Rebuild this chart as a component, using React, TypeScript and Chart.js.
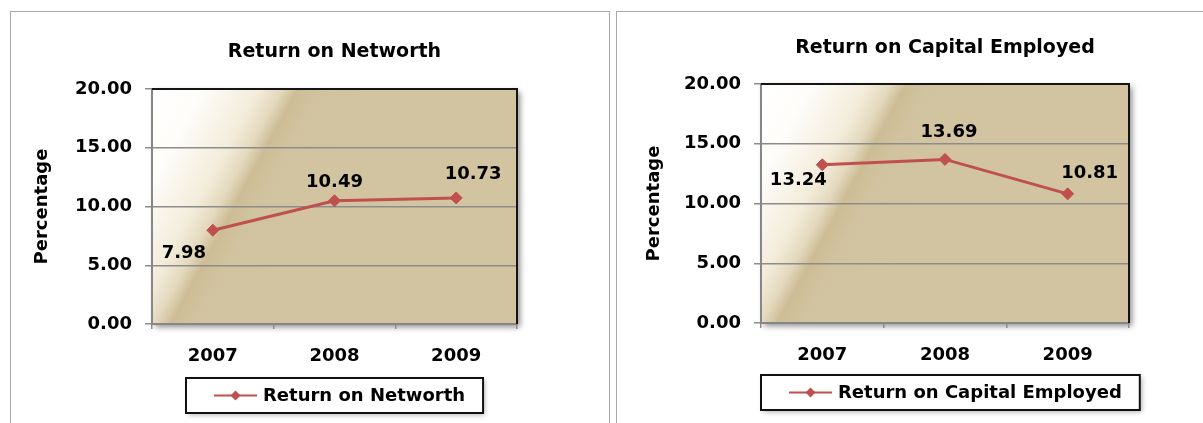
import React, { useEffect, useRef } from "react";
import { Chart, registerables } from "chart.js";
Chart.register(...registerables);

// ---- data ----
const years = ["2007", "2008", "2009"];
const networthValues = [7.98, 10.49, 10.73];
const capitalValues = [13.24, 13.69, 10.81];
const yMin = 0;
const yMax = 20;
const yStep = 5;
const networthTitle = "Return on Networth";
const capitalTitle = "Return on Capital Employed";
const axisTitle = "Percentage";

// label placement (style, not data)
const networthLabelOffsets = [[-29, 23], [0, -18], [17, -24]];
const capitalLabelOffsets = [[-24, 16], [4, -27], [22, -20]];

const FONT = "'DejaVu Sans', Verdana, sans-serif";
const RED = "#C0504D";

const plotBackground = {
  id: "plotBackground",
  beforeDraw(chart: any) {
    const { ctx, chartArea: a } = chart;
    const L = 200;
    const ux = 0.88, uy = 0.476;
    const g = ctx.createLinearGradient(a.left, a.top, a.left + ux * L, a.top + uy * L);
    g.addColorStop(0, "#FFFFFF");
    g.addColorStop(0.22, "#FEFDFA");
    g.addColorStop(0.47, "#F3ECDA");
    g.addColorStop(0.57, "#E4D9BE");
    g.addColorStop(0.64, "#CDBD96");
    g.addColorStop(0.74, "#D1C39F");
    g.addColorStop(1, "#D2C4A1");
    ctx.save();
    ctx.shadowColor = "rgba(0,0,0,0.45)";
    ctx.shadowBlur = 6;
    ctx.shadowOffsetX = 3;
    ctx.shadowOffsetY = 3;
    ctx.fillStyle = g;
    ctx.fillRect(a.left, a.top, a.right - a.left, a.bottom - a.top);
    ctx.restore();
  },
  afterDraw(chart: any) {
    const { ctx, chartArea: a } = chart;
    ctx.save();
    ctx.strokeStyle = "#151515";
    ctx.lineWidth = 2;
    ctx.beginPath();
    ctx.moveTo(a.left, a.top);
    ctx.lineTo(a.right, a.top);
    ctx.lineTo(a.right, a.bottom);
    ctx.stroke();
    ctx.restore();
  },
};

const pointLabels = {
  id: "pointLabels",
  afterDatasetsDraw(chart: any, _args: any, opts: any) {
    const { ctx } = chart;
    const meta = chart.getDatasetMeta(0);
    const data = chart.data.datasets[0].data;
    ctx.save();
    ctx.font = `bold 18px ${FONT}`;
    ctx.fillStyle = "#000";
    ctx.textAlign = "center";
    ctx.textBaseline = "middle";
    meta.data.forEach((pt: any, i: number) => {
      const off = (opts.offsets && opts.offsets[i]) || [0, -18];
      ctx.fillText(Number(data[i]).toFixed(2), pt.x + off[0], pt.y + off[1]);
    });
    ctx.restore();
  },
};

const boxLegend = {
  id: "boxLegend",
  afterDraw(chart: any, _args: any, opts: any) {
    const { ctx, chartArea: a } = chart;
    const ds = chart.data.datasets[0];
    ctx.save();
    ctx.font = `bold 18px ${FONT}`;
    const tw = ctx.measureText(ds.label).width;
    const w = tw + 95;
    const h = 35;
    const cx = (a.left + a.right) / 2 + (opts.dx || 0);
    const left = Math.round(cx - w / 2);
    const top = Math.round(a.bottom + opts.gap);
    ctx.shadowColor = "rgba(0,0,0,0.3)";
    ctx.shadowBlur = 5;
    ctx.shadowOffsetX = 2;
    ctx.shadowOffsetY = 2;
    ctx.fillStyle = "#fff";
    ctx.fillRect(left, top, w, h);
    ctx.shadowColor = "transparent";
    ctx.strokeStyle = "#111";
    ctx.lineWidth = 2;
    ctx.strokeRect(left, top, w, h);
    const cy = top + h / 2;
    const lx = left + 28;
    ctx.strokeStyle = ds.borderColor;
    ctx.lineWidth = 2;
    ctx.beginPath();
    ctx.moveTo(lx, cy);
    ctx.lineTo(lx + 43, cy);
    ctx.stroke();
    const mx = lx + 21.5, r = 5;
    ctx.fillStyle = ds.borderColor;
    ctx.beginPath();
    ctx.moveTo(mx, cy - r);
    ctx.lineTo(mx + r, cy);
    ctx.lineTo(mx, cy + r);
    ctx.lineTo(mx - r, cy);
    ctx.closePath();
    ctx.fill();
    ctx.fillStyle = "#000";
    ctx.textAlign = "left";
    ctx.textBaseline = "middle";
    ctx.fillText(ds.label, lx + 49, cy + 1);
    ctx.restore();
  },
};

function makeConfig(p: {
  title: string;
  values: number[];
  offsets: number[][];
  padRight: number;
  padBottom: number;
  yWidth: number;
  titleTop: number;
  titleBottom: number;
  axisTitlePad: number;
  legendGap: number;
  legendDx: number;
}): any {
  return {
    type: "line",
    data: {
      labels: years,
      datasets: [
        {
          label: p.title,
          data: p.values,
          borderColor: RED,
          backgroundColor: RED,
          borderWidth: 3,
          pointStyle: "rectRot",
          pointRadius: 6,
          pointBackgroundColor: RED,
          pointBorderColor: RED,
          pointBorderWidth: 1,
          tension: 0,
          clip: false,
        },
      ],
    },
    options: {
      responsive: false,
      animation: false,
      events: [],
      layout: { padding: { left: 0, right: p.padRight, top: 0, bottom: p.padBottom } },
      plugins: {
        legend: { display: false },
        tooltip: { enabled: false },
        title: {
          display: true,
          text: p.title,
          fullSize: false,
          color: "#000",
          font: { family: FONT, size: 19, weight: "bold" },
          padding: { top: p.titleTop, bottom: p.titleBottom },
        },
        pointLabels: { offsets: p.offsets },
        boxLegend: { gap: p.legendGap, dx: p.legendDx },
      },
      scales: {
        x: {
          offset: true,
          afterFit: (s: any) => {
            s.height = 60;
          },
          grid: {
            offset: true,
            drawOnChartArea: false,
            drawTicks: true,
            tickLength: 5,
            color: "#8C8C8C",
            lineWidth: 1.5,
          },
          border: { display: true, color: "#868686", width: 2 },
          ticks: {
            color: "#000",
            padding: 17,
            font: { family: FONT, size: 18, weight: "bold" },
          },
        },
        y: {
          min: yMin,
          max: yMax,
          afterFit: (s: any) => {
            s.width = p.yWidth;
          },
          grid: {
            color: "#8C8C8C",
            lineWidth: 1.5,
            drawTicks: true,
            tickLength: 7,
          },
          border: { display: true, color: "#868686", width: 2 },
          ticks: {
            stepSize: yStep,
            color: "#000",
            padding: 13,
            font: { family: FONT, size: 18, weight: "bold" },
            callback: (v: any) => Number(v).toFixed(2),
          },
          title: {
            display: true,
            text: axisTitle,
            color: "#000",
            font: { family: FONT, size: 18, weight: "bold" },
            padding: { top: p.axisTitlePad, bottom: 0 },
          },
        },
      },
    },
    plugins: [plotBackground, pointLabels, boxLegend],
  };
}

function Panel(props: { left: number; top: number; width: number; cw: number; config: any }) {
  const ref = useRef<HTMLCanvasElement | null>(null);
  useEffect(() => {
    if (!ref.current) return;
    const chart = new Chart(ref.current, props.config);
    return () => chart.destroy();
  }, []);
  return (
    <div
      style={{
        position: "absolute",
        left: props.left,
        top: props.top,
        width: props.width,
        height: 430,
        border: "1px solid #A8A8A8",
        background: "#fff",
        overflow: "hidden",
      }}
    >
      <canvas ref={ref} width={props.cw} height={411} style={{ display: "block", width: props.cw, height: 411 }} />
    </div>
  );
}

export default function App() {
  const leftCfg = makeConfig({
    title: networthTitle,
    values: networthValues,
    offsets: networthLabelOffsets,
    padRight: 92,
    padBottom: 39,
    yWidth: 141,
    titleTop: 28.6,
    titleBottom: 25.6,
    axisTitlePad: 21,
    legendGap: 54,
    legendDx: 0,
  });
  const rightCfg = makeConfig({
    title: capitalTitle,
    values: capitalValues,
    offsets: capitalLabelOffsets,
    padRight: 78,
    padBottom: 40,
    yWidth: 144,
    titleTop: 24.6,
    titleBottom: 24.6,
    axisTitlePad: 27,
    legendGap: 52,
    legendDx: 5,
  });
  return (
    <div
      style={{
        position: "absolute",
        left: 0,
        top: 0,
        width: 1203,
        height: 423,
        overflow: "hidden",
        background: "#fff",
      }}
    >
      <Panel left={10} top={11} width={598} cw={598} config={leftCfg} />
      <Panel left={616} top={11} width={600} cw={590} config={rightCfg} />
    </div>
  );
}
